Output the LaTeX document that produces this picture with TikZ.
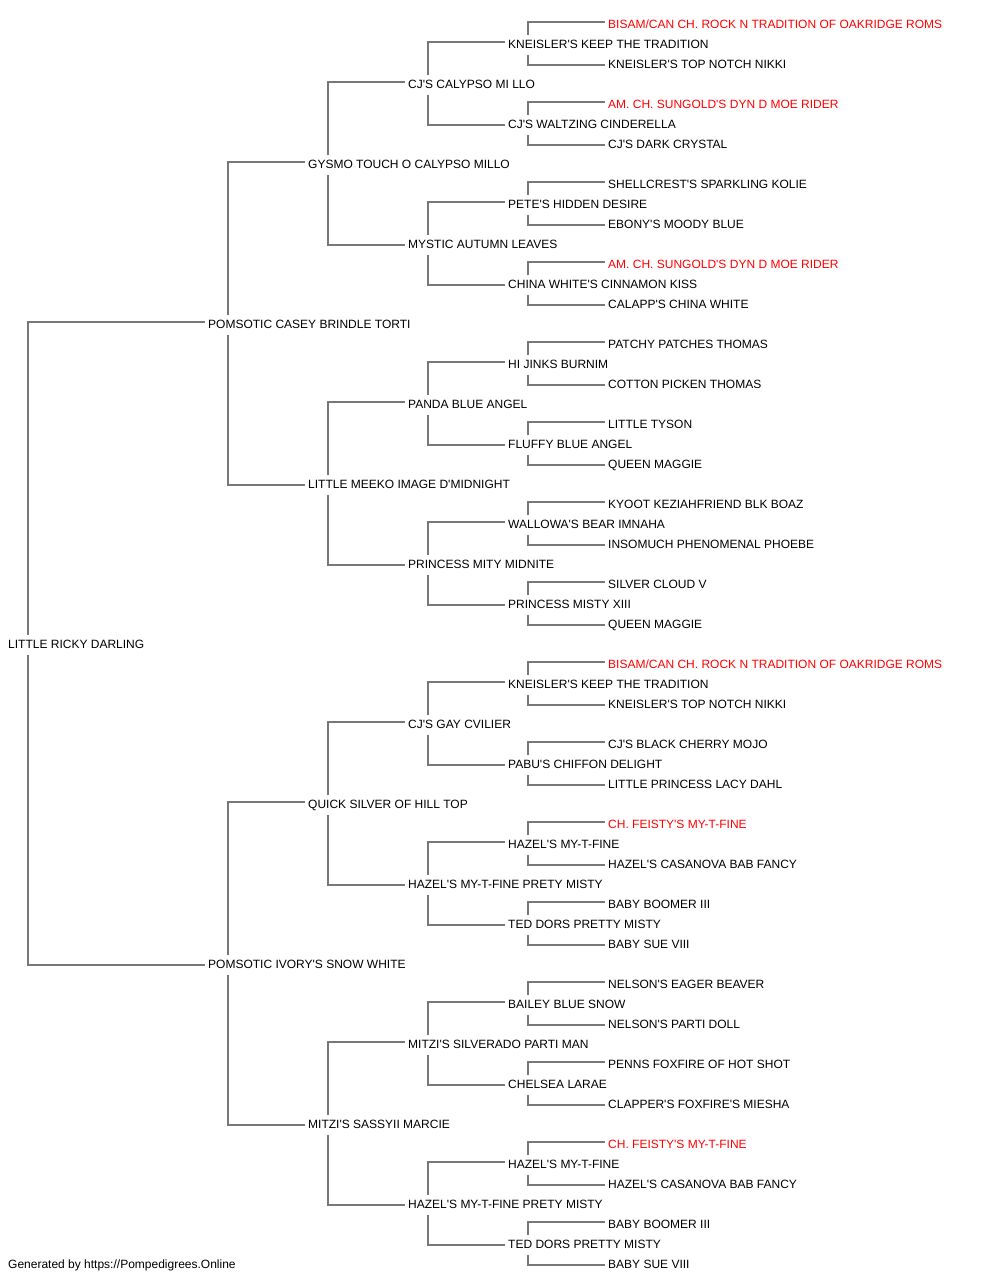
\documentclass[tikz,border=0pt]{standalone}
\usepackage{fontspec}
\newfontfamily\arialf{Liberation Sans}
\definecolor{linkgray}{RGB}{120,120,120}
\definecolor{champ}{RGB}{255,0,0}
\newcommand{\R}[1]{\textcolor{champ}{#1}}
\tikzset{
  nm/.style={anchor=west, inner sep=0pt, text height=8.6pt, text depth=0pt,
             font=\arialf\fontsize{12}{14}\selectfont, text=black},
  link/.style={draw=linkgray, line width=1.8pt, line join=miter}
}
\begin{document}
\begin{tikzpicture}[x=1pt,y=-1pt]
\useasboundingbox (0,0) rectangle (1000,1280);
% generation 0
\node[nm] (g0-0) at (8,644.5) {LITTLE RICKY DARLING};
% generation 1
\foreach \t [count=\k from 0, evaluate=\k as \yy using 324.5+640*\k] in
 {POMSOTIC CASEY BRINDLE TORTI, POMSOTIC IVORY'S SNOW WHITE}
 \node[nm] (g1-\k) at (208,\yy) {\t};
% generation 2
\foreach \t [count=\k from 0, evaluate=\k as \yy using 164.5+320*\k] in
 {GYSMO TOUCH O CALYPSO MILLO, LITTLE MEEKO IMAGE D'MIDNIGHT,
  QUICK SILVER OF HILL TOP, MITZI'S SASSYII MARCIE}
 \node[nm] (g2-\k) at (308,\yy) {\t};
% generation 3
\foreach \t [count=\k from 0, evaluate=\k as \yy using 84.5+160*\k] in
 {CJ'S CALYPSO MI LLO, MYSTIC AUTUMN LEAVES, PANDA BLUE ANGEL, PRINCESS MITY MIDNITE,
  CJ'S GAY CVILIER, HAZEL'S MY-T-FINE PRETY MISTY, MITZI'S SILVERADO PARTI MAN,
  HAZEL'S MY-T-FINE PRETY MISTY}
 \node[nm] (g3-\k) at (408,\yy) {\t};
% generation 4
\foreach \t [count=\k from 0, evaluate=\k as \yy using 44.5+80*\k] in
 {KNEISLER'S KEEP THE TRADITION, CJ'S WALTZING CINDERELLA, PETE'S HIDDEN DESIRE,
  CHINA WHITE'S CINNAMON KISS, HI JINKS BURNIM, FLUFFY BLUE ANGEL,
  WALLOWA'S BEAR IMNAHA, PRINCESS MISTY XIII, KNEISLER'S KEEP THE TRADITION,
  PABU'S CHIFFON DELIGHT, HAZEL'S MY-T-FINE, TED DORS PRETTY MISTY,
  BAILEY BLUE SNOW, CHELSEA LARAE, HAZEL'S MY-T-FINE, TED DORS PRETTY MISTY}
 \node[nm] (g4-\k) at (508,\yy) {\t};
% generation 5
\foreach \t [count=\k from 0, evaluate=\k as \yy using 24.5+40*\k] in
 {{\R{BISAM/CAN CH. ROCK N TRADITION OF OAKRIDGE ROMS}}, KNEISLER'S TOP NOTCH NIKKI,
  {\R{AM. CH. SUNGOLD'S DYN D MOE RIDER}}, CJ'S DARK CRYSTAL,
  SHELLCREST'S SPARKLING KOLIE, EBONY'S MOODY BLUE,
  {\R{AM. CH. SUNGOLD'S DYN D MOE RIDER}}, CALAPP'S CHINA WHITE,
  PATCHY PATCHES THOMAS, COTTON PICKEN THOMAS, LITTLE TYSON, QUEEN MAGGIE,
  KYOOT KEZIAHFRIEND BLK BOAZ, INSOMUCH PHENOMENAL PHOEBE, SILVER CLOUD V, QUEEN MAGGIE,
  {\R{BISAM/CAN CH. ROCK N TRADITION OF OAKRIDGE ROMS}}, KNEISLER'S TOP NOTCH NIKKI,
  CJ'S BLACK CHERRY MOJO, LITTLE PRINCESS LACY DAHL,
  {\R{CH. FEISTY'S MY-T-FINE}}, HAZEL'S CASANOVA BAB FANCY,
  BABY BOOMER III, BABY SUE VIII,
  NELSON'S EAGER BEAVER, NELSON'S PARTI DOLL,
  PENNS FOXFIRE OF HOT SHOT, CLAPPER'S FOXFIRE'S MIESHA,
  {\R{CH. FEISTY'S MY-T-FINE}}, HAZEL'S CASANOVA BAB FANCY,
  BABY BOOMER III, BABY SUE VIII}
 \node[nm] (g5-\k) at (608,\yy) {\t};
% connectors
\foreach \g/\m in {0/0,1/1,2/3,3/7,4/15}{
  \pgfmathtruncatemacro\h{\g+1}
  \foreach \i in {0,...,\m}{
    \pgfmathtruncatemacro\a{2*\i}
    \pgfmathtruncatemacro\b{2*\i+1}
    \draw[link] ([xshift=-3pt,yshift=2.5pt]g\h-\a.west) -| ([xshift=20pt,yshift=10pt]g\g-\i.west);
    \draw[link] ([xshift=-3pt,yshift=-0.5pt]g\h-\b.west) -| ([xshift=20pt,yshift=-10pt]g\g-\i.west);
  }
}
% footer
\node[nm] (footer) at (8,1264.5) {Generated by https://Pompedigrees.Online};
\end{tikzpicture}
\end{document}
